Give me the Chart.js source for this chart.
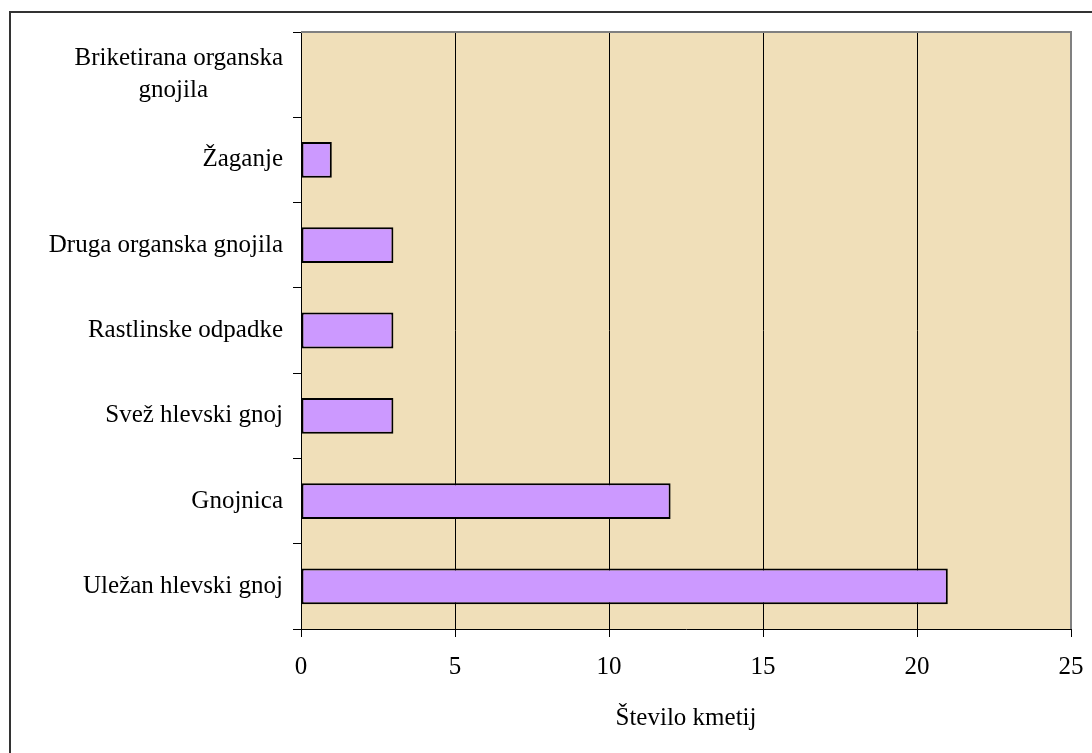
<!DOCTYPE html>
<html>
<head>
<meta charset="utf-8">
<script src="https://cdn.jsdelivr.net/npm/chart.js@4/dist/chart.umd.min.js"></script>
<style>
  html, body { margin: 0; padding: 0; background: #fff; }
  #wrap { position: relative; width: 1092px; height: 753px; overflow: hidden; }
  #frame { position: absolute; left: 9px; top: 11px; width: 1200px; height: 900px;
           border-left: 2px solid #333; border-top: 2px solid #333; }
  canvas { position: absolute; left: 0; top: 0; }
</style>
</head>
<body>
<div id="wrap">
  <div id="frame"></div>
  <canvas id="chart" width="1092" height="753"></canvas>
</div>
<script>
// Horizontal bars: number of farms per type of organic fertiliser
const categories = [
  ['Briketirana organska', 'gnojila\u00a0\u00a0\u00a0\u00a0\u00a0\u00a0\u00a0\u00a0\u00a0\u00a0\u00a0\u00a0'],
  'Žaganje',
  'Druga organska gnojila',
  'Rastlinske odpadke',
  'Svež hlevski gnoj',
  'Gnojnica',
  'Uležan hlevski gnoj'
];
const farmCounts = [0, 1, 3, 3, 3, 12, 21];
const xTicks = [0, 5, 10, 15, 20, 25];

const serif = "'Times New Roman', 'Liberation Serif', serif";

// parchment background + grey top/right frame of the plot area
const plotArea = {
  id: 'plotArea',
  beforeDraw(chart) {
    const { ctx, chartArea: a } = chart;
    ctx.save();
    ctx.fillStyle = '#f0dfb9';
    ctx.fillRect(a.left, a.top, a.right - a.left, a.bottom - a.top);
    ctx.restore();
  },
  afterDraw(chart) {
    const { ctx, chartArea: a } = chart;
    ctx.save();
    ctx.strokeStyle = '#808080';
    ctx.lineWidth = 2;
    ctx.beginPath();
    ctx.moveTo(a.left, a.top);
    ctx.lineTo(a.right, a.top);
    ctx.lineTo(a.right, a.bottom);
    ctx.stroke();
    ctx.restore();
  }
};

new Chart(document.getElementById('chart'), {
  type: 'bar',
  data: {
    labels: categories,
    datasets: [{
      data: farmCounts,
      backgroundColor: '#cc99ff',
      borderColor: '#000',
      borderWidth: 2,
      borderSkipped: false,
      categoryPercentage: 1,
      barPercentage: 0.42
    }]
  },
  options: {
    indexAxis: 'y',
    responsive: false,
    animation: false,
    layout: { padding: { top: 32, right: 21, left: 0, bottom: 0 } },
    plugins: { legend: { display: false }, tooltip: { enabled: false } },
    scales: {
      x: {
        min: 0,
        max: 25,
        afterBuildTicks: s => { s.ticks = xTicks.map(v => ({ value: v })); },
        afterFit: s => { s.height = 124; s.paddingLeft = 0; s.paddingRight = 0; },
        grid: {
          color: c => (c.tick && c.tick.value === 25 ? 'rgba(0,0,0,0)' : '#000'),
          tickColor: '#000',
          tickLength: 8,
          lineWidth: 1
        },
        border: { color: '#000', width: 1 },
        ticks: { color: '#000', padding: 15, font: { family: serif, size: 25 } },
        title: {
          display: true,
          text: 'Število kmetij',
          color: '#000',
          font: { family: serif, size: 25 },
          padding: { top: 0, bottom: 20 }
        }
      },
      y: {
        afterFit: s => { s.width = 301; },
        grid: {
          offset: true,
          drawOnChartArea: false,
          tickColor: '#000',
          tickLength: 8
        },
        border: { color: '#000', width: 1 },
        ticks: { color: '#000', padding: 10, font: { family: serif, size: 25, lineHeight: 1.28 } }
      }
    }
  },
  plugins: [plotArea]
});
</script>
</body>
</html>
